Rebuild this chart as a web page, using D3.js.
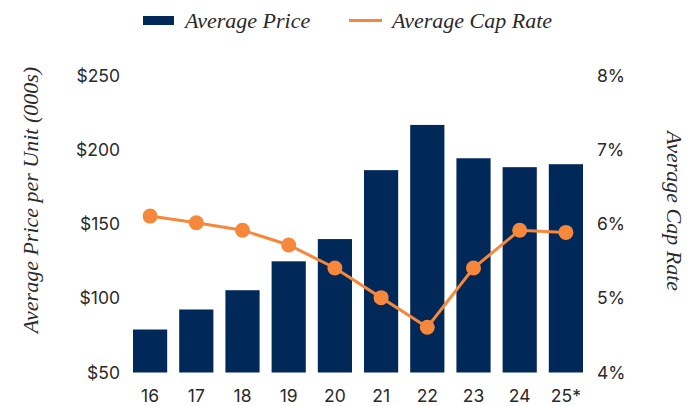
<!DOCTYPE html>
<html>
<head>
<meta charset="utf-8">
<script src="https://cdn.jsdelivr.net/npm/d3@7"></script>
<style>
  body { margin: 0; background: #fff; }
  .tick text { font-family: "Inter", sans-serif; font-size: 17.5px; fill: #2a2a2a; }
  .ttl { font-family: "Liberation Serif", serif; font-style: italic; font-size: 22px; fill: #2a2a2a; }
</style>
</head>
<body>
<script>
// chart data
var years = ["16", "17", "18", "19", "20", "21", "22", "23", "24", "25*"];
var avgPrice = [79, 92.5, 105.5, 125, 140, 186.5, 217, 194.5, 188.5, 190.5];
var capRate = [6.11, 6.02, 5.92, 5.72, 5.41, 5.01, 4.61, 5.41, 5.92, 5.89];
var priceTicks = [50, 100, 150, 200, 250];
var rateTicks = [4, 5, 6, 7, 8];

var W = 698, H = 406;
var navy = "#00295a", orange = "#f7873a";

var svg = d3.select("body").append("svg")
  .attr("width", W)
  .attr("height", H);

var x = d3.scaleBand().domain(years).range([127, 589])
  .paddingInner(0.26).paddingOuter(0.13);
var y = d3.scaleLinear().domain([50, 250]).range([372.5, 76]);
var y2 = d3.scaleLinear().domain([4, 8]).range([372.5, 76]);

// bars
svg.selectAll("rect.bar")
  .data(avgPrice)
  .enter()
  .append("rect")
  .attr("class", "bar")
  .attr("x", function(d, i) { return x(years[i]); })
  .attr("y", function(d) { return y(d); })
  .attr("width", x.bandwidth())
  .attr("height", function(d) { return y(50) - y(d); })
  .attr("fill", navy);

// cap rate line
var line = d3.line()
  .x(function(d, i) { return x(years[i]) + x.bandwidth() / 2; })
  .y(function(d) { return y2(d); });

svg.append("path")
  .datum(capRate)
  .attr("d", line)
  .attr("fill", "none")
  .attr("stroke", orange)
  .attr("stroke-width", 3);

svg.selectAll("circle")
  .data(capRate)
  .enter()
  .append("circle")
  .attr("cx", function(d, i) { return x(years[i]) + x.bandwidth() / 2; })
  .attr("cy", function(d) { return y2(d); })
  .attr("r", 7.5)
  .attr("fill", orange);

// axes
var leftAxis = svg.append("g")
  .attr("transform", "translate(120,0)")
  .call(d3.axisLeft(y).tickValues(priceTicks).tickSize(0).tickPadding(0)
    .tickFormat(function(d) { return "$" + d; }));
leftAxis.select(".domain").remove();

var rightAxis = svg.append("g")
  .attr("transform", "translate(597,0)")
  .call(d3.axisRight(y2).tickValues(rateTicks).tickSize(0).tickPadding(0)
    .tickFormat(function(d) { return d + "%"; }));
rightAxis.select(".domain").remove();

var bottomAxis = svg.append("g")
  .attr("transform", "translate(0,384)")
  .call(d3.axisBottom(x).tickSize(0).tickPadding(6));
bottomAxis.select(".domain").remove();

// axis titles
svg.append("text").attr("class", "ttl")
  .attr("transform", "translate(38,200) rotate(-90)")
  .attr("text-anchor", "middle")
  .text("Average Price per Unit (000s)");

svg.append("text").attr("class", "ttl")
  .attr("transform", "translate(667,211) rotate(90)")
  .attr("text-anchor", "middle")
  .text("Average Cap Rate");

// legend
svg.append("rect").attr("x", 143).attr("y", 16).attr("width", 31).attr("height", 9).attr("fill", navy);
svg.append("text").attr("class", "ttl").attr("x", 185).attr("y", 28).text("Average Price");
svg.append("line").attr("x1", 349).attr("x2", 382).attr("y1", 20.5).attr("y2", 20.5)
  .attr("stroke", orange).attr("stroke-width", 3);
svg.append("text").attr("class", "ttl").attr("x", 392).attr("y", 28).text("Average Cap Rate");
</script>
</body>
</html>
